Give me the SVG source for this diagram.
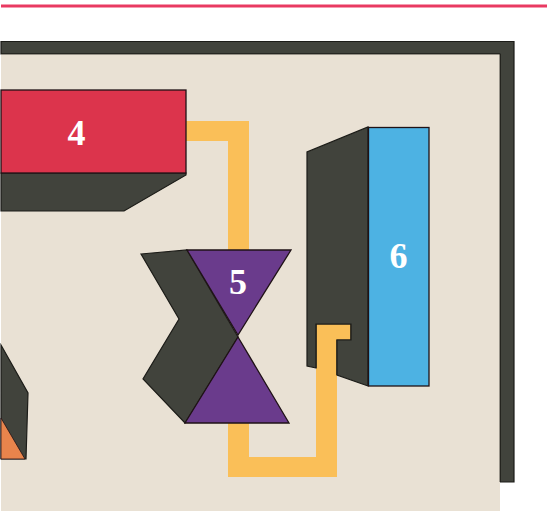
<svg xmlns="http://www.w3.org/2000/svg" width="547" height="513" viewBox="0 0 547 513">
<style>
.dark{fill:#41433c;stroke:#1c1c18;stroke-width:1.2;stroke-linejoin:miter}
.face{stroke:#1f1216;stroke-width:1.3}
.pipe{fill:#fabf58;stroke:none}
.num{font-family:"Liberation Serif",serif;font-weight:700;font-size:36px;fill:#fff;text-anchor:middle}
</style>
<rect width="547" height="513" fill="#fff"/>
<rect x="1" y="4.500" width="546" height="3" fill="#e93a62"/>
<g id="frame">
<polygon points="1,41.500 514,41.500 514,482 500,482 500,54 1,54" class="dark"/>
<rect x="1" y="54" width="499" height="457" fill="#e9e1d4"/>
<polyline points="1,54 500,54 500,482" fill="none" stroke="#1c1c18" stroke-width="0.800"/>
</g>
<g id="connectors">
<polygon class="pipe" points="186,121 249,121 249,252 228,252 228,141 186,141"/>
<polygon class="pipe" points="228,422 249,422 249,457 316,457 316,324 351,324 351,340 337,340 337,477 228,477"/>
<polyline points="316,368 316,324 351,324 351,340 337,340 337,375" fill="none" stroke="#1c1c18" stroke-width="1.200"/>
</g>
<g id="node-3">
<polygon class="dark" points="1,345 28,393 26,459 1,459"/>
<polygon points="1,418 25,459 1,459" fill="#e8844c" stroke="#1f1216" stroke-width="0.800"/>
</g>
<g id="node-4">
<polygon class="dark" points="1,173 186,173 186,175 124,211 1,211"/>
<rect class="face" x="1" y="90" width="185" height="83" fill="#dc344c" stroke-width="1.300"/>
<text class="num" x="76.500" y="145">4</text>
</g>
<g id="node-5">
<polygon class="dark" points="141,254 187,250 238,337 185,423 143,379 179,319"/>
<polygon class="face" points="187,250 291,250 238,335" fill="#6a3b8c"/>
<polygon class="face" points="238,337 289,423 185,423" fill="#6a3b8c"/>
<text class="num" x="238" y="294">5</text>
</g>
<g id="node-6">
<path class="dark" d="M316,368 L307,366 V152 L368,127 V386 L337,375 V340 H351 V324 H316 Z"/>
<rect class="face" x="368.500" y="127.500" width="60.500" height="258.500" fill="#4db2e3"/>
<text class="num" x="398.500" y="268">6</text>
</g>
</svg>
